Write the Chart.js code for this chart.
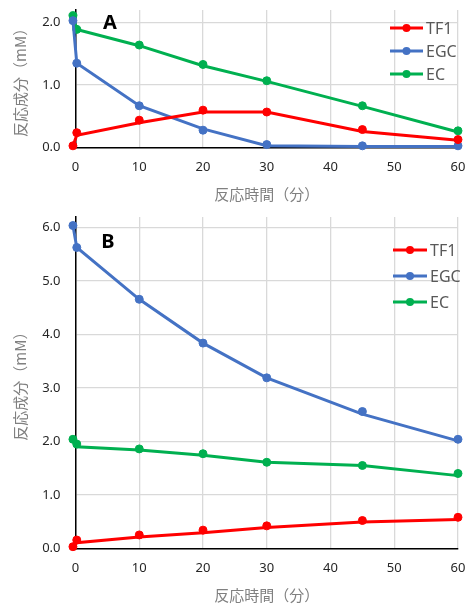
<!DOCTYPE html>
<html>
<head>
<meta charset="utf-8">
<script src="https://cdn.jsdelivr.net/npm/chart.js@4/dist/chart.umd.min.js"></script>
<style>
    html, body { margin: 0; padding: 0; background: #fff; }
    #wrap { position: relative; width: 470px; height: 605px; }
    canvas { position: absolute; left: 0; }
    #chartA { top: 0; }
    #chartB { top: 205px; }
</style>
</head>
<body>
<div id="wrap">
    <canvas id="chartA" width="470" height="205"></canvas>
    <canvas id="chartB" width="470" height="400"></canvas>
</div>
<script>
// Data
const SERIES_NAMES = ['TF1', 'EGC', 'EC'];
const SERIES_COLORS = ['#ff0000', '#4472c4', '#00b050'];
const TIMES = [-0.4, 0.2, 10, 20, 30, 45, 60]; // 分
const X_TICKS = [0, 10, 20, 30, 40, 50, 60];

// Panel A: measured points
const TF1_A = [0.03, 0.24, 0.44, 0.60, 0.57, 0.29, 0.13];
const EGC_A = [2.03, 1.35, 0.67, 0.28, 0.05, 0.03, 0.03];
const EC_A = [2.11, 1.89, 1.64, 1.33, 1.07, 0.67, 0.27];
// Panel A: fitted curves
const TF1_FIT_A = [0.03, 0.20, 0.40, 0.57, 0.57, 0.26, 0.12];
const EGC_FIT_A = [2.03, 1.35, 0.67, 0.30, 0.03, 0.02, 0.02];
const EC_FIT_A = [2.11, 1.89, 1.63, 1.31, 1.06, 0.66, 0.25];

// Panel B: measured points
const TF1_B = [0.03, 0.155, 0.25, 0.34, 0.42, 0.52, 0.58];
const EGC_B = [6.04, 5.63, 4.66, 3.84, 3.19, 2.56, 2.04];
const EC_B = [2.04, 1.95, 1.86, 1.77, 1.61, 1.55, 1.40];
// Panel B: fitted curves
const TF1_FIT_B = [0.03, 0.105, 0.21, 0.29, 0.39, 0.49, 0.54];
const EGC_FIT_B = [6.04, 5.63, 4.66, 3.84, 3.19, 2.51, 2.01];
const EC_FIT_B = [2.04, 1.90, 1.84, 1.74, 1.61, 1.55, 1.36];

const Y_TITLE = '反応成分（mM）';
const X_TITLE = '反応時間（分）';

const LATIN = '"Noto Sans", "Open Sans", sans-serif';
const CJK = '"Noto Sans CJK JP", "Noto Sans", sans-serif';

Chart.defaults.font.family = LATIN;

// Legend: line + dot sample, drawn in the top right corner
const lineLegend = {
    id: 'lineLegend',
    afterDraw(chart, args, opts) {
        const ctx = chart.ctx;
        ctx.save();
        SERIES_NAMES.forEach((name, i) => {
            const y = opts.y + i * opts.gap;
            ctx.strokeStyle = SERIES_COLORS[i];
            ctx.lineWidth = 3;
            ctx.beginPath();
            ctx.moveTo(opts.x, y);
            ctx.lineTo(opts.x + opts.len, y);
            ctx.stroke();
            ctx.fillStyle = SERIES_COLORS[i];
            ctx.beginPath();
            ctx.arc(opts.x + opts.len / 2, y, 4, 0, Math.PI * 2);
            ctx.fill();
            ctx.fillStyle = '#595959';
            ctx.font = '16px ' + LATIN;
            ctx.textBaseline = 'middle';
            ctx.textAlign = 'left';
            ctx.fillText(name, opts.x + opts.len + 3, y + 1);
        });
        ctx.restore();
    }
};

// Panel letter placed in data coordinates
const panelLetter = {
    id: 'panelLetter',
    afterDraw(chart, args, opts) {
        const { ctx, scales: { x, y } } = chart;
        ctx.save();
        ctx.fillStyle = '#000';
        ctx.font = 'bold 20px ' + LATIN;
        ctx.textAlign = 'center';
        ctx.textBaseline = 'middle';
        ctx.fillText(opts.text, x.getPixelForValue(opts.at[0]), y.getPixelForValue(opts.at[1]));
        ctx.restore();
    }
};

function toPoints(values) {
    return TIMES.map((t, i) => ({ x: t, y: values[i] }));
}

function buildDatasets(measured, fitted) {
    const sets = [];
    SERIES_NAMES.forEach((name, i) => {
        sets.push({
            label: name + ' fit',
            data: toPoints(fitted[i]),
            showLine: true,
            borderColor: SERIES_COLORS[i],
            backgroundColor: SERIES_COLORS[i],
            borderWidth: 3,
            pointRadius: 0,
            tension: 0,
            clip: false
        });
        sets.push({
            label: name,
            data: toPoints(measured[i]),
            showLine: false,
            borderColor: SERIES_COLORS[i],
            backgroundColor: SERIES_COLORS[i],
            pointRadius: 4,
            pointHoverRadius: 4,
            clip: false
        });
    });
    return sets;
}

// drop the extra room Chart.js reserves for half-labels
function noEdgePadding(scale) {
    scale.paddingTop = 0;
    scale.paddingBottom = 0;
    scale.paddingLeft = 0;
    scale.paddingRight = 0;
}

function makeChart(id, cfg) {
    const ctx = document.getElementById(id).getContext('2d');
    return new Chart(ctx, {
        type: 'scatter',
        data: { datasets: buildDatasets(cfg.measured, cfg.fitted) },
        options: {
            responsive: false,
            animation: false,
            layout: { padding: { left: 0, right: 12, top: cfg.padTop, bottom: 0 } },
            plugins: {
                legend: { display: false },
                tooltip: { enabled: false },
                lineLegend: cfg.legend,
                panelLetter: cfg.letter
            },
            scales: {
                x: {
                    type: 'linear',
                    min: 0,
                    max: 60,
                    afterBuildTicks: (scale) => {
                        scale.ticks = X_TICKS.map(v => ({ value: v }));
                    },
                    afterFit: (scale) => {
                        scale.height = cfg.xHeight;
                        noEdgePadding(scale);
                    },
                    grid: { color: '#d9d9d9', lineWidth: 1.3, drawTicks: false },
                    border: { color: '#000', width: 1.5 },
                    ticks: { color: '#262626', font: { size: 13 }, padding: 12, maxRotation: 0 },
                    title: {
                        display: true,
                        text: X_TITLE,
                        color: '#808080',
                        font: { family: CJK, size: 15 },
                        padding: { top: 0, bottom: cfg.xTitlePad }
                    }
                },
                y: {
                    type: 'linear',
                    min: 0,
                    max: cfg.yMax,
                    afterBuildTicks: (scale) => {
                        scale.ticks = cfg.yTicks.map(v => ({ value: v }));
                    },
                    afterFit: (scale) => {
                        scale.width = 75.5;
                        noEdgePadding(scale);
                    },
                    grid: { color: '#d9d9d9', lineWidth: 1.3, drawTicks: false },
                    border: { color: '#000', width: 1.5 },
                    ticks: {
                        color: '#262626',
                        font: { size: 13 },
                        padding: 15,
                        callback: (v) => v.toFixed(1)
                    },
                    title: {
                        display: true,
                        text: Y_TITLE,
                        color: '#808080',
                        font: { family: CJK, size: 15 },
                        padding: { top: 11, bottom: 0 }
                    }
                }
            }
        },
        plugins: [lineLegend, panelLetter]
    });
}

makeChart('chartA', {
    measured: [TF1_A, EGC_A, EC_A],
    fitted: [TF1_FIT_A, EGC_FIT_A, EC_FIT_A],
    yMax: 2.2,
    yTicks: [0, 1, 2],
    padTop: 10,
    xHeight: 57.3,
    xTitlePad: 2,
    legend: { x: 390, y: 28, gap: 23, len: 33 },
    letter: { text: 'A', at: [5.4, 1.98] }
});

makeChart('chartB', {
    measured: [TF1_B, EGC_B, EC_B],
    fitted: [TF1_FIT_B, EGC_FIT_B, EC_FIT_B],
    yMax: 6.2,
    yTicks: [0, 1, 2, 3, 4, 5, 6],
    padTop: 12,
    xHeight: 56.7,
    xTitlePad: 1,
    legend: { x: 393, y: 45, gap: 26, len: 34 },
    letter: { text: 'B', at: [5.1, 5.73] }
});
</script>
</body>
</html>
